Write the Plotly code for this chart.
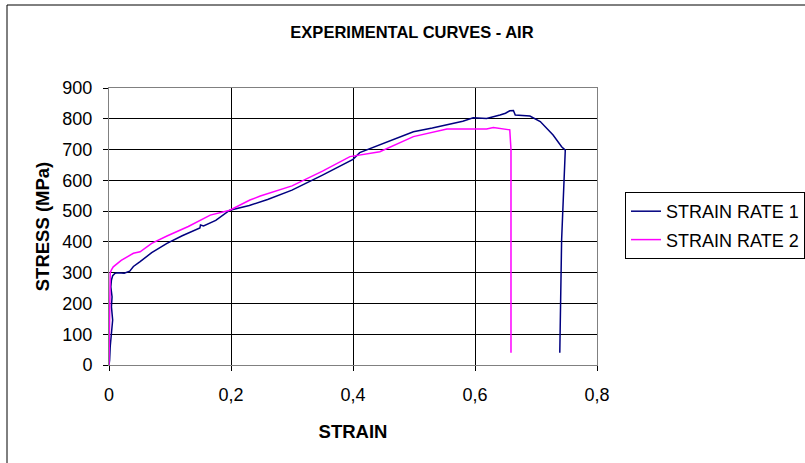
import plotly.graph_objects as go

# Strain rate 1 (navy)
strain_1 = [0, 0.001, 0.002, 0.004, 0.006, 0.004, 0.005, 0.003, 0.004, 0.006, 0.010, 0.015,
            0.025, 0.034, 0.040, 0.051, 0.070, 0.095, 0.120, 0.149, 0.150, 0.155, 0.175,
            0.198, 0.230, 0.260, 0.300, 0.350, 0.400, 0.411, 0.444, 0.470, 0.499, 0.530,
            0.554, 0.580, 0.597, 0.619, 0.641, 0.650, 0.657, 0.663, 0.666, 0.690, 0.707,
            0.728, 0.742, 0.748, 0.746, 0.742, 0.739]
stress_1 = [0, 16, 60, 103, 146, 189, 222, 254, 276, 290, 298, 300,
            298, 305, 320, 336, 365, 395, 420, 445, 455, 452, 470,
            503, 518, 538, 568, 617, 668, 690, 715, 735, 758, 770,
            780, 792, 803, 801, 812, 818, 826, 827, 812, 809, 791,
            747, 709, 698, 601, 406, 40]

# Strain rate 2 (magenta)
strain_2 = [0, 0.0005, 0.001, 0.002, 0.004, 0.007, 0.020, 0.040, 0.051, 0.070, 0.095, 0.130,
            0.166, 0.198, 0.231, 0.248, 0.300, 0.350, 0.395, 0.444, 0.499, 0.554, 0.580,
            0.619, 0.630, 0.646, 0.657, 0.659, 0.659]
stress_2 = [0, 150, 276, 300, 309, 319, 340, 363, 368, 395, 419, 450,
            487, 503, 536, 549, 582, 630, 677, 693, 742, 767, 767,
            767, 772, 768, 764, 700, 40]

series_names = ["STRAIN RATE 1", "STRAIN RATE 2"]
x_ticks = [0, 0.2, 0.4, 0.6, 0.8]
x_tick_labels = ["0", "0,2", "0,4", "0,6", "0,8"]
y_ticks = list(range(0, 1000, 100))

FONT = "Liberation Sans, Arial, sans-serif"

fig = go.Figure()
fig.add_trace(go.Scatter(x=strain_1, y=stress_1, mode="lines", name=series_names[0],
                         line=dict(color="#000080", width=1.5), legendgroup="a"))
fig.add_trace(go.Scatter(x=strain_2, y=stress_2, mode="lines", name=series_names[1],
                         line=dict(color="#FF00FF", width=1.5), legendgroup="b"))

W, H = 805, 463
L, R, T, B = 109, 597, 88, 365
pw, ph = R - L, B - T

def px(x):
    return (x - L) / pw

def py(y):
    return (B - y) / ph

fig.update_layout(
    width=W, height=H,
    margin=dict(l=L, r=W - R, t=T, b=H - B, pad=0, autoexpand=False),
    paper_bgcolor="white", plot_bgcolor="white",
    separators=", ",
    font=dict(family=FONT, size=18, color="black"),
    title=dict(text="<b>EXPERIMENTAL CURVES - AIR</b>", x=412 / W, xref="container",
               xanchor="center", y=1 - 32 / H, yref="container", yanchor="middle",
               font=dict(size=16.5, family=FONT, color="black")),
    showlegend=True,
    legend=dict(x=px(625), y=py(192), xanchor="left", yanchor="top",
                bordercolor="black", borderwidth=1, bgcolor="white",
                font=dict(size=18, family=FONT, color="black"),
                traceorder="grouped", tracegroupgap=2),
    xaxis=dict(range=[0, 0.8], tickvals=x_ticks, ticktext=x_tick_labels,
               showgrid=True, gridcolor="black", gridwidth=1, zeroline=False,
               showline=True, linecolor="#808080", linewidth=1, mirror=True,
               ticks="outside", ticklen=5, tickcolor="black", ticklabelstandoff=8,
               tickfont=dict(size=18),
               title=dict(text="<b>STRAIN</b>", standoff=21, font=dict(size=18.5))),
    yaxis=dict(range=[0, 900], tickvals=y_ticks,
               showgrid=True, gridcolor="black", gridwidth=1, zeroline=False,
               showline=True, linecolor="#808080", linewidth=1, mirror=True,
               ticks="outside", ticklen=5, tickcolor="black", ticklabelstandoff=7,
               tickfont=dict(size=18),
               title=dict(text="<b>STRESS (MPa)</b>", standoff=7, font=dict(size=18.5))),
    shapes=[dict(type="rect", xref="paper", yref="paper",
                 x0=px(7), x1=px(W + 20), y0=py(H + 20), y1=py(5),
                 line=dict(color="black", width=1), fillcolor="rgba(0,0,0,0)", layer="below")],
)

fig.write_html("out.html")
